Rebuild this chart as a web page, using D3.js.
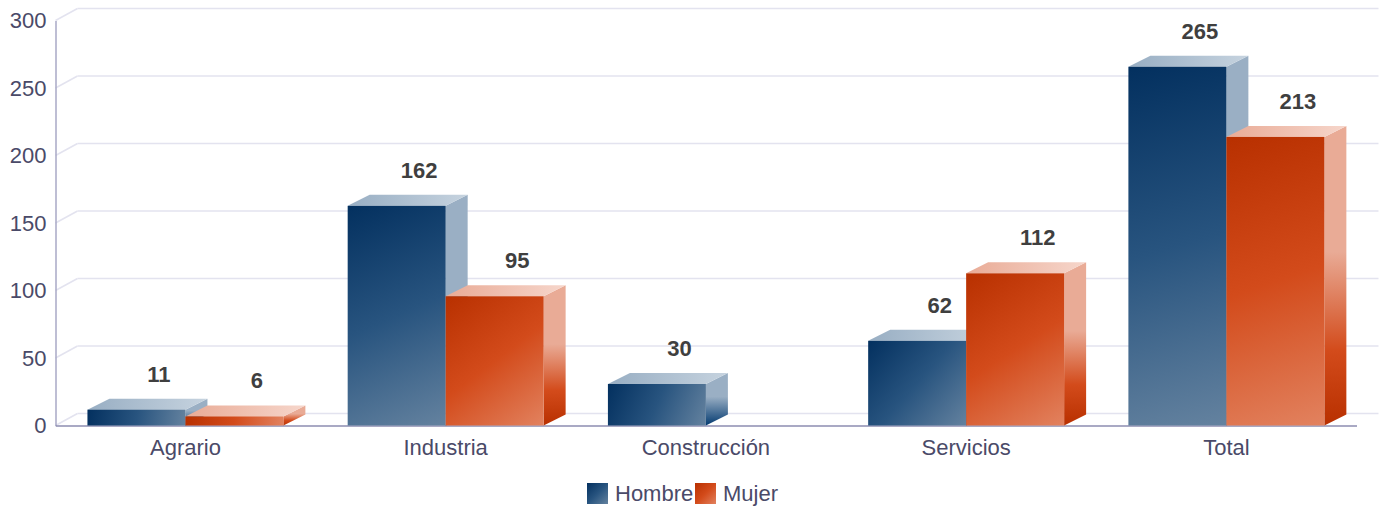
<!DOCTYPE html>
<html>
<head>
<meta charset="utf-8">
<script src="https://cdn.jsdelivr.net/npm/d3@7"></script>
<style>
    html, body { margin: 0; padding: 0; background: #fff; }
    svg { display: block; font-family: "Liberation Sans", Arial, sans-serif; }
</style>
</head>
<body>
<svg width="1383" height="509"></svg>
<script>
const categories = ['Agrario', 'Industria', 'Construcción', 'Servicios', 'Total'];
const seriesNames = ['Hombre', 'Mujer'];
const hombre = [11, 162, 30, 62, 265];
const mujer = [6, 95, null, 112, 213];
const yTicks = [0, 50, 100, 150, 200, 250, 300];

const blues = { front: ['#03305f', '#28547f', '#64829f'], side: ['#9aafc4', '#9aafc4', '#033a70'], top: ['#98aec3', '#c6d3df'] };
const reds = { front: ['#b83000', '#d34b1b', '#e2825f'], side: ['#e9ab96', '#e9ab96', '#d34b1b', '#b83000'], top: ['#e9ab96', '#f6d6cb'] };
const palette = { Hombre: blues, Mujer: reds };

const depthX = 22;
const depthY = 11;
const left = 55.5;
const right = 1356.5;

var svg = d3.select('svg');

var y = d3.scaleLinear()
    .domain([0, 300])
    .range([425.5, 20.5]);

var x = d3.scaleBand()
    .domain(categories)
    .range([left - 0.2, right])
    .paddingInner(0.247)
    .paddingOuter(0.1235);

var xInner = d3.scaleBand()
    .domain(seriesNames)
    .range([0, x.bandwidth()]);

/////////////////////////////
// GRADIENTS
/////////////////////////////
var defs = svg.append('defs');

function gradient(id, colors, x2, y2, offsets) {
    var g = defs.append('linearGradient')
        .attr('id', id)
        .attr('x1', 0).attr('y1', 0)
        .attr('x2', x2).attr('y2', y2);
    colors.forEach((c, i) => {
        g.append('stop')
            .attr('offset', offsets ? offsets[i] : i / (colors.length - 1))
            .attr('stop-color', c);
    });
    return g;
}

// the front faces run corner to corner in screen space, so each one needs its own
function frontGradient(id, series, x0, y0, x1, y1) {
    gradient(id, palette[series].front, 1, 1)
        .attr('gradientUnits', 'userSpaceOnUse')
        .attr('x1', x0).attr('y1', y0)
        .attr('x2', x1).attr('y2', y1);
    return `url(#${id})`;
}

gradient('sideHombre', blues.side, 0, 1, [0, 0.45, 1]);
gradient('topHombre', blues.top, 1, 0);
gradient('sideMujer', reds.side, 0, 1, [0, 0.42, 0.75, 1]);
gradient('topMujer', reds.top, 1, 0);

/////////////////////////////
// WALLS AND GRID
/////////////////////////////
var grid = svg.append('g').attr('class', 'grid');

grid.selectAll('.back')
    .data(yTicks)
    .enter()
    .append('line')
        .attr('x1', left + depthX)
        .attr('x2', right + depthX)
        .attr('y1', (d) => y(d) - 12)
        .attr('y2', (d) => y(d) - 12)
        .attr('stroke', '#e3e3ef')
        .attr('stroke-width', 1.5);

grid.selectAll('.wall')
    .data(yTicks)
    .enter()
    .append('line')
        .attr('x1', left)
        .attr('x2', left + depthX)
        .attr('y1', (d) => y(d))
        .attr('y2', (d) => y(d) - 12)
        .attr('stroke', '#e3e3ef')
        .attr('stroke-width', 1.5);

/////////////////////////////
// AXES
/////////////////////////////
var yAxis = svg.append('g')
    .attr('transform', `translate(${left},0)`)
    .call(d3.axisLeft(y).tickValues(yTicks).tickSize(0).tickPadding(9));

var xAxis = svg.append('g')
    .attr('transform', `translate(0,${y(0)})`)
    .call(d3.axisBottom(x).tickSize(0).tickPadding(14));

yAxis.select('.domain').attr('stroke', '#a9a9c6').attr('stroke-width', 1.5);
xAxis.select('.domain').attr('stroke', '#8d8db0').attr('stroke-width', 1.5);

svg.selectAll('.tick text')
    .attr('fill', '#4a4a68')
    .style('font-size', '22px')
    .style('font-family', '"Liberation Sans", Arial, sans-serif');

/////////////////////////////
// BARS
/////////////////////////////
function points(p) {
    return p.map((d) => d.join(',')).join(' ');
}

var rows = [];
categories.forEach((c, i) => {
    rows.push({ category: c, series: 'Hombre', value: hombre[i] });
    if (mujer[i] !== null) rows.push({ category: c, series: 'Mujer', value: mujer[i] });
});

var bar = svg.append('g')
    .attr('class', 'bars')
    .selectAll('.bar')
    .data(rows)
    .enter()
    .append('g')
        .attr('class', 'bar');

const barX = (d) => x(d.category) + xInner(d.series);
const barW = xInner.bandwidth();
// front face sits a pixel above the gridline it reads against
const barTop = (d) => y(d.value) - 1;

bar.append('polygon')
    .attr('points', (d) => points([
        [barX(d) + barW, barTop(d)],
        [barX(d) + barW + depthX, barTop(d) - depthY],
        [barX(d) + barW + depthX, y(0) - depthY],
        [barX(d) + barW, y(0)]
    ]))
    .attr('fill', (d) => `url(#side${d.series})`);

bar.append('polygon')
    .attr('points', (d) => points([
        [barX(d), barTop(d)],
        [barX(d) + depthX, barTop(d) - depthY],
        [barX(d) + barW + depthX, barTop(d) - depthY],
        [barX(d) + barW, barTop(d)]
    ]))
    .attr('fill', (d) => `url(#top${d.series})`);

bar.append('rect')
    .attr('x', barX)
    .attr('y', barTop)
    .attr('width', barW)
    .attr('height', (d) => y(0) - barTop(d))
    .attr('fill', (d, i) => frontGradient('front' + i, d.series, barX(d), barTop(d), barX(d) + barW, y(0)));

/////////////////////////////
// VALUE LABELS
/////////////////////////////
svg.append('g')
    .attr('class', 'values')
    .selectAll('text')
    .data(rows)
    .enter()
    .append('text')
        .attr('x', (d) => barX(d) + barW / 2 + depthX + 0.5)
        .attr('y', (d) => y(d.value) - 29)
        .attr('text-anchor', 'middle')
        .attr('fill', '#3f3f3f')
        .style('font-size', '22px')
        .style('font-weight', 'bold')
        .text((d) => d.value);

/////////////////////////////
// LEGEND
/////////////////////////////
var legendX = d3.scaleOrdinal().domain(seriesNames).range([587, 695]);

var legend = svg.append('g')
    .attr('class', 'legend')
    .selectAll('g')
    .data(seriesNames)
    .enter()
    .append('g')
        .attr('transform', (d) => `translate(${legendX(d)},483)`);

legend.append('rect')
    .attr('width', 21)
    .attr('height', 21)
    .attr('fill', (d) => frontGradient('legend' + d, d, 0, 0, 21, 21));

legend.append('text')
    .attr('x', 28)
    .attr('y', 18)
    .attr('fill', '#4a4a68')
    .style('font-size', '22px')
    .text((d) => d);
</script>
</body>
</html>
